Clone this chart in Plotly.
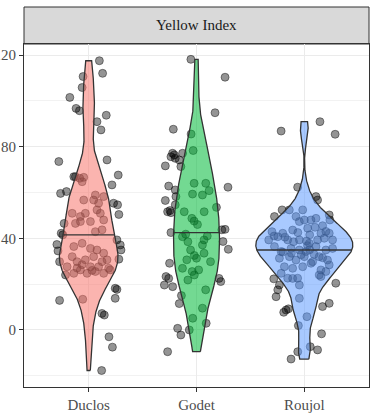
import numpy as np
import plotly.graph_objects as go

categories = ["Duclos", "Godet", "Roujol"]
panel_title = "Yellow Index"
y_tickvals = [0, 40, 80, 120]
y_ticktext = ["0", "40", "80", "120"]

duclos_values = [
    117.5, 112.0, 110.6, 105.8, 101.5, 96.7, 95.7, 93.7, 90.9, 87.3,
    73.5, 74.2, 66.9, 67.6, 63.3, 59.6, 60.4, 55.3, 54.6, 50.4,
    46.5, 42.2, 41.5, 39.3, 37.1, 34.9, 37.3, 34.5, 29.8, 30.9,
    24.0, 18.2, 17.7, 13.8, 12.9, 7.2, 6.5, -3.0, -7.5, -17.7,
    66.9, 66.2, 66.6, 64.7, 58.9, 56.7, 55.3, 58.2, 52.4, 50.9,
    56.7, 50.9, 49.5, 50.9, 47.3, 48.0, 46.5, 47.3, 42.9, 43.7,
    36.4, 37.8, 35.6, 34.9, 33.5, 30.6, 32.0, 29.8, 30.6, 32.0,
    29.8, 26.9, 27.6, 24.7, 26.2, 24.7, 25.5, 24.7, 26.2, 27.6,
    27.6, 28.5, 26.0, 27.0, 13.4,
]
duclos_jitter = [
    0.099, 0.129, -0.052, -0.061, -0.175, -0.117, -0.086, 0.163, 0.077, 0.114,
    -0.277, 0.17, -0.138, 0.274, 0.216, -0.261, -0.206, 0.231, 0.268, 0.28,
    -0.228, -0.255, -0.24, 0.262, 0.293, 0.3, -0.295, -0.285, -0.27, 0.28,
    -0.215, 0.246, 0.262, 0.246, -0.27, 0.123, 0.145, 0.188, 0.22, 0.12,
    -0.123, -0.083, -0.046, -0.061, 0.062, 0.046, 0.092, 0.139, 0.077, 0.108,
    -0.046, -0.153, -0.077, -0.031, 0.016, 0.139, -0.123, -0.077, 0.062, 0.124,
    -0.138, -0.061, 0.016, 0.077, 0.139, 0.17, -0.153, -0.108, -0.031, 0.046,
    0.124, 0.185, -0.2, -0.138, -0.077, -0.015, 0.062, 0.139, 0.2, 0.016,
    0.092, -0.061, 0.031, -0.108, -0.055,
]

godet_values = [
    118.1, 110.3, 94.8, 87.6, 77.1, 75.6, 76.4, 74.9, 77.1, 74.2,
    71.6, 71.3, 62.8, 62.3, 56.5, 51.6, 51.2, 52.1, 61.1, 58.2,
    54.6, 53.5, 42.5, 43.9, 43.7, 38.6, 35.2, 29.1, 23.3, 22.5,
    19.6, 18.9, 22.5, 21.1, 11.5, 2.9, 0.7, -2.2, 0.0, -9.5,
    85.5, 78.3, 64.0, 64.0, 58.9, 59.3, 60.8, 51.6, 51.6, 47.5,
    46.0, 48.7, 40.7, 38.5, 34.9, 15.0, 37.1, 33.5, 29.8, 26.9,
    25.5, 26.2, 9.5, 21.8, 24.0, 17.5, 5.1, 39.3, 30.6, 31.3,
    41.8, 41.0, 32.5,
]
godet_jitter = [
    -0.052, 0.265, 0.172, -0.215, -0.222, -0.237, -0.206, -0.197, -0.129, -0.16,
    -0.289, -0.145, -0.258, 0.292, -0.289, -0.268, -0.237, -0.246, -0.197, -0.191,
    -0.197, 0.185, -0.237, 0.265, 0.235, 0.246, 0.295, -0.25, -0.283, -0.258,
    -0.298, -0.221, 0.209, 0.225, -0.16, 0.09, -0.175, -0.145, -0.067, -0.268,
    -0.05, -0.031, -0.022, 0.086, 0.055, -0.037, 0.117, -0.114, 0.071, -0.022,
    0.009, -0.043, -0.13, -0.08, -0.055, -0.14, 0.055, 0.07, 0.13, -0.13,
    -0.04, 0.02, 0.055, -0.08, -0.02, 0.085, -0.035, 0.07, -0.09, 0.0,
    -0.1, 0.1, -0.02,
]

roujol_values = [
    90.9, 86.8, 85.4, 62.3, 58.2, 56.7, 52.4, 49.5, 50.2, 48.0,
    22.3, 19.6, 17.5, 14.5, 20.4, 8.7, 7.7, 9.2, 10.2, 11.6,
    13.8, 5.8, 1.9, -1.7, -7.3, -8.7, -9.5, -12.7,
    52.4, 52.4, 49.5, 47.3, 48.0, 48.0, 48.7, 43.6, 44.4, 42.2,
    42.2, 42.9, 40.7, 42.2, 39.3, 39.3, 37.8, 39.3, 40.0, 39.3,
    39.3, 36.4, 34.2, 35.6, 34.9, 34.2, 36.4, 34.9, 35.6, 31.3,
    32.0, 30.5, 32.0, 29.8, 32.0, 30.5, 27.6, 26.9, 27.6, 29.1,
    26.2, 28.4, 24.7, 22.5, 24.0, 25.5, 19.6, 22.6, 22.6, 23.3,
    38.5, 41.5, 45.5, 36.8, 34.0, 33.0, 32.8, 31.5, 33.5, 35.0,
    41.0, 43.0, 38.8, 42.5, 44.8, 40.5,
]
roujol_jitter = [
    0.145, -0.215, 0.286, -0.062, 0.108, 0.123, -0.206, -0.277, 0.231, 0.237,
    -0.283, -0.231, -0.246, -0.262, 0.292, -0.169, -0.191, -0.148, 0.169, 0.231,
    -0.046, 0.024, -0.055, 0.16, 0.055, 0.123, -0.061, -0.123,
    -0.139, -0.015, -0.077, -0.046, 0.0, 0.062, 0.108, -0.108, 0.031, 0.154,
    0.231, -0.3, -0.246, -0.2, -0.154, -0.046, 0.046, 0.123, 0.185, 0.262,
    -0.33, -0.277, -0.215, -0.123, -0.046, 0.015, 0.108, 0.2, 0.262, -0.231,
    -0.138, -0.077, 0.0, 0.077, 0.138, 0.215, -0.185, -0.108, -0.015, 0.062,
    0.154, 0.231, -0.215, -0.108, 0.138, 0.2, -0.046, -0.154, -0.062, 0.154,
    -0.1, 0.05, 0.17, 0.03, -0.2, 0.09, -0.03, 0.17, -0.12, 0.05,
    -0.28, 0.2, 0.02, -0.06, 0.1, -0.18,
]

group_values = [duclos_values, godet_values, roujol_values]
group_jitter = [duclos_jitter, godet_jitter, roujol_jitter]
fill_colors = ["rgba(248,118,109,0.55)", "rgba(0,186,56,0.55)", "rgba(97,156,255,0.55)"]
outline = "#333333"
violin_width = 0.9


def bw_nrd0(x):
    sd = np.std(x, ddof=1)
    q75, q25 = np.percentile(x, [75, 25])
    lo = min(sd, (q75 - q25) / 1.34)
    return 0.9 * lo * len(x) ** -0.2


def gaussian_kde(x, grid):
    bw = bw_nrd0(x)
    z = (grid[:, None] - x[None, :]) / bw
    return np.exp(-0.5 * z ** 2).sum(axis=1) / (len(x) * bw * np.sqrt(2 * np.pi))


# density of each group over its own data range (trimmed violins)
grids, dens = [], []
for vals in group_values:
    v = np.asarray(vals, dtype=float)
    g = np.linspace(v.min(), v.max(), 512)
    grids.append(g)
    dens.append(gaussian_kde(v, g))
dmax = max(d.max() for d in dens)

fig = go.Figure()

# jittered observations, drawn beneath the violins
for i, (vals, jit) in enumerate(zip(group_values, group_jitter)):
    pos = i + 1
    fig.add_trace(go.Scatter(
        x=[pos + j for j in jit], y=vals, mode="markers",
        marker=dict(size=8, color="rgba(0,0,0,0.42)",
                    line=dict(color="rgba(0,0,0,0.42)", width=1)),
        showlegend=False, hoverinfo="y",
    ))

# violins with a median line
for i, vals in enumerate(group_values):
    pos = i + 1
    g, d = grids[i], dens[i]
    half = d / dmax * violin_width / 2
    xs = np.concatenate([pos + half, (pos - half)[::-1], [pos + half[0]]])
    ys = np.concatenate([g, g[::-1], [g[0]]])
    fig.add_trace(go.Scatter(
        x=xs, y=ys, mode="lines", fill="toself", fillcolor=fill_colors[i],
        line=dict(color=outline, width=1.3), showlegend=False, hoverinfo="skip",
    ))
    med = float(np.median(vals))
    hm = float(np.interp(med, g, half))
    fig.add_trace(go.Scatter(
        x=[pos - hm, pos + hm], y=[med, med], mode="lines",
        line=dict(color=outline, width=1.3), showlegend=False, hoverinfo="skip",
    ))

font_family = "Liberation Serif"
plot_h = 414 - 44 - 27
strip_h = 37 / plot_h

fig.add_shape(type="rect", xref="paper", yref="paper", x0=0, x1=1, y0=1, y1=1 + strip_h,
              fillcolor="#D9D9D9", line=dict(color=outline, width=1), layer="below")
fig.add_annotation(text=panel_title, xref="paper", yref="paper", x=0.5, y=1 + strip_h / 2,
                   showarrow=False, font=dict(family=font_family, size=15, color="#1A1A1A"),
                   xanchor="center", yanchor="middle")

fig.update_layout(
    width=371, height=414,
    margin=dict(l=24, r=2, t=44, b=27),
    paper_bgcolor="white", plot_bgcolor="white",
    font=dict(family=font_family, size=15, color="#4D4D4D"),
    showlegend=False,
)
fig.update_xaxes(
    range=[0.4, 3.6], tickvals=[1, 2, 3], ticktext=categories, automargin=False,
    showgrid=True, gridcolor="#EBEBEB", gridwidth=1, zeroline=False,
    showline=True, mirror=True, linecolor=outline, linewidth=1,
    ticks="outside", ticklen=4, tickcolor=outline, tickwidth=1,
    tickfont=dict(family=font_family, size=15, color="#4D4D4D"),
)
fig.update_yaxes(
    range=[-24.9, 124.8], tickvals=y_tickvals, ticktext=y_ticktext, automargin=False,
    showgrid=True, gridcolor="#EBEBEB", gridwidth=1, zeroline=False,
    minor=dict(tickvals=[-20, 20, 60, 100], showgrid=True, gridcolor="#F2F2F2", gridwidth=1, ticks=""),
    showline=True, mirror=True, linecolor=outline, linewidth=1,
    ticks="outside", ticklen=4, tickcolor=outline, tickwidth=1,
    tickfont=dict(family=font_family, size=15, color="#4D4D4D"),
)

fig.write_html("out.html")
